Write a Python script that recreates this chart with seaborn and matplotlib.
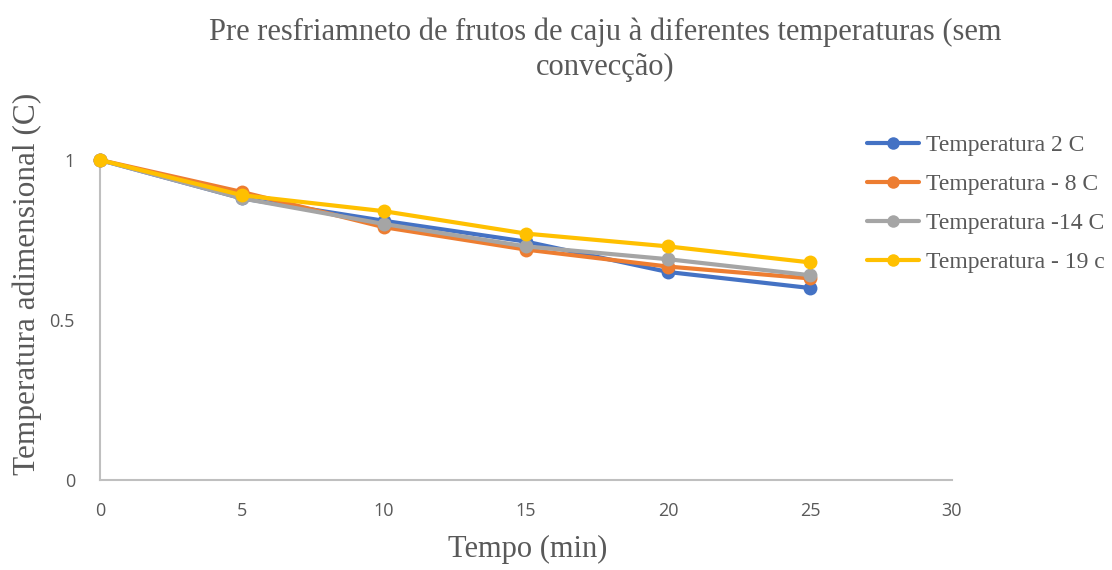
import numpy as np
import pandas as pd
import matplotlib
matplotlib.use("Agg")
import matplotlib.pyplot as plt
import seaborn as sns

tempo = [0, 5, 10, 15, 20, 25]
temp_2 = [1.0, 0.88, 0.81, 0.745, 0.65, 0.60]
temp_8 = [1.0, 0.90, 0.79, 0.72, 0.667, 0.63]
temp_14 = [1.0, 0.88, 0.80, 0.73, 0.69, 0.64]
temp_19 = [1.0, 0.89, 0.84, 0.77, 0.73, 0.68]
series_names = ["Temperatura 2 C", "Temperatura - 8 C", "Temperatura -14 C", "Temperatura - 19 c"]
cores = ["#4472C4", "#ED7D31", "#A5A5A5", "#FFC000"]

df = pd.DataFrame({"Tempo": tempo * 4,
                   "valor": temp_2 + temp_8 + temp_14 + temp_19,
                   "serie": np.repeat(series_names, len(tempo))})

sns.set_style("white")
plt.rcParams['font.family'] = ['Liberation Serif', 'DejaVu Sans']
cinza = "#595959"

fig = plt.figure(figsize=(11.12, 5.7), dpi=100)
ax = fig.add_axes([100/1112, 1-480/570, 852/1112, 320/570])

sns.lineplot(data=df, x="Tempo", y="valor", hue="serie", hue_order=series_names,
             palette=cores, marker="o", markersize=10, markeredgewidth=0,
             linewidth=3, ax=ax, clip_on=False, zorder=3)

ax.set_xlim(0, 30)
ax.set_ylim(0, 1)
ax.set_xticks([0, 5, 10, 15, 20, 25, 30])
ax.set_yticks([0, 0.5, 1])
ax.set_yticklabels(["0", "0.5", "1"])
for lab in ax.get_xticklabels() + ax.get_yticklabels():
    lab.set_family("Open Sans")
    lab.set_fontsize(13)
    lab.set_color(cinza)
ax.tick_params(axis="x", pad=16, length=0)
ax.tick_params(axis="y", pad=18, length=0)

for s in ["top", "right"]:
    ax.spines[s].set_visible(False)
for s in ["left", "bottom"]:
    ax.spines[s].set_color("#BFBFBF")
    ax.spines[s].set_linewidth(1.5)

ax.set_xlabel("Tempo (min)", fontsize=22, color=cinza)
ax.xaxis.set_label_coords(0.502, -0.172)
ax.set_ylabel("Temperatura adimensional (C)", fontsize=22.5, color=cinza)
ax.yaxis.set_label_coords(-0.068, 0.6125)

fig.text(605/1112, 1-50/570, "Pre resfriamneto de frutos de caju à diferentes temperaturas (sem\nconvecção)",
         ha="center", va="center", fontsize=22, color=cinza, linespacing=1.25)

leg = ax.legend(loc="upper left", bbox_to_anchor=(846/1112, 1-113/570),
                bbox_transform=fig.transFigure, frameon=False, fontsize=17,
                labelcolor=cinza, handlelength=2.2, labelspacing=0.74, handletextpad=0.3)
for h in leg.get_lines():
    h.set_linewidth(3)
    h.set_markersize(9)

fig.savefig("out.png", dpi=100)
